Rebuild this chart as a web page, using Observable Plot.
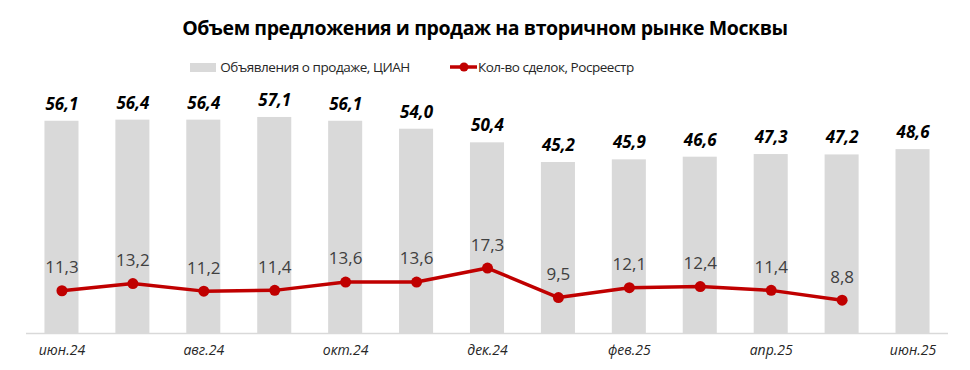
<!DOCTYPE html>
<html><head><meta charset="utf-8">
<script src="https://cdn.jsdelivr.net/npm/d3@7"></script>
<script src="https://cdn.jsdelivr.net/npm/@observablehq/plot@0.6"></script>
<style>
body{margin:0;background:#fff;font-family:"Open Sans",sans-serif;width:970px;}
#title{height:48px;line-height:56px;text-align:center;font-weight:700;font-size:19.5px;color:#000;letter-spacing:-0.4px;}
#legend{height:38px;display:flex;align-items:center;justify-content:center;gap:40px;font-family:"Open Sans",sans-serif;font-size:13.5px;letter-spacing:-0.45px;color:#262626;padding-right:146px;box-sizing:border-box;}
.lg{display:flex;align-items:center;white-space:nowrap;}
svg{display:block;}
</style></head>
<body>
<div id="title">Объем предложения и продаж на вторичном рынке Москвы</div>
<div id="legend">
  <div class="lg"><span style="display:inline-block;width:26px;height:9px;background:#d9d9d9;margin-right:4px"></span>Объявления о продаже, ЦИАН</div>
  <div class="lg"><svg width="27" height="12" style="margin-right:1px"><line x1="0" y1="6" x2="27" y2="6" stroke="#c00000" stroke-width="3.5"/><circle cx="14" cy="6" r="4.5" fill="#c00000"/></svg>Кол-во сделок, Росреестр</div>
</div>
<div id="chart"></div>
<script>
const months = ["июн.24","июл.24","авг.24","сен.24","окт.24","ноя.24","дек.24","янв.25","фев.25","мар.25","апр.25","май.25","июн.25"];
const listings = [56.1,56.4,56.4,57.1,56.1,54.0,50.4,45.2,45.9,46.6,47.3,47.2,48.6];
const deals = [11.3,13.2,11.2,11.4,13.6,13.6,17.3,9.5,12.1,12.4,11.4,8.8];
const shownTicks = ["июн.24","авг.24","окт.24","дек.24","фев.25","апр.25","июн.25"];

const fmt = v => v.toFixed(1).replace(".", ",");
const barData = months.map((m,i)=>({m, v: listings[i]}));
const lineData = deals.map((v,i)=>({m: months[i], v}));

const chart = Plot.plot({
  width: 970, height: 284,
  marginLeft: 26, marginRight: 22, marginTop: 20, marginBottom: 37,
  style: {fontFamily: "Open Sans, sans-serif", background: "#fff"},
  x: {type: "band", domain: months, paddingInner: 0.52, paddingOuter: 0.26, round: false, label: null},
  y: {domain: [0, 60], axis: null},
  marks: [
    Plot.barY(barData, {x: "m", y: "v", fill: "#d9d9d9"}),
    Plot.ruleY([0], {stroke: "#d9d9d9", strokeWidth: 1.5}),
    Plot.text(barData, {x: "m", y: "v", text: d => fmt(d.v), dy: -17, fontSize: 17, fontWeight: 700, fontStyle: "italic", fill: "#000"}),
    Plot.line(lineData, {x: "m", y: "v", stroke: "#c00000", strokeWidth: 3.5}),
    Plot.dot(lineData, {x: "m", y: "v", fill: "#c00000", r: 5.5}),
    Plot.text(lineData, {x: "m", y: "v", text: d => fmt(d.v), dy: -23, fontSize: 17, fill: "#404040"}),
    Plot.axisX({ticks: shownTicks, tickSize: 0, tickPadding: 12, fontSize: 14, fontStyle: "italic", fill: "#262626", label: null})
  ]
});
document.getElementById("chart").appendChild(chart);
</script>
</body></html>
